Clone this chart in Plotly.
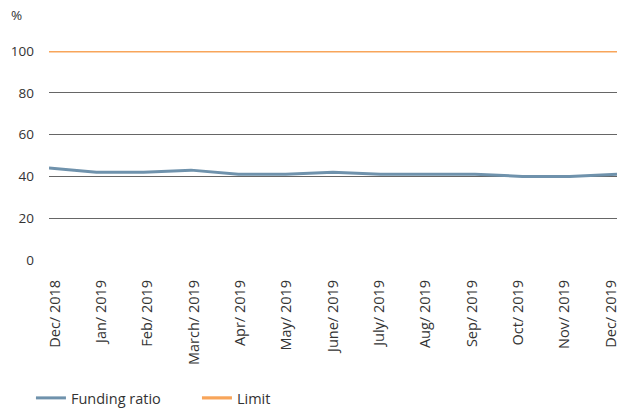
import plotly.graph_objects as go

categories = ["Dec/ 2018", "Jan/ 2019", "Feb/ 2019", "March/ 2019", "Apr/ 2019", "May/ 2019",
              "June/ 2019", "July/ 2019", "Aug/ 2019", "Sep/ 2019", "Oct/ 2019", "Nov/ 2019", "Dec/ 2019"]
funding_ratio = [44, 42, 42, 43, 41, 41, 42, 41, 41, 41, 40, 40, 41]
limit = [100] * len(categories)
y_ticks = [0, 20, 40, 60, 80, 100]

FONT = "'Open Sans', sans-serif"
TXT = "#333333"
FS = 13.5
FSX = 14.5

idx = list(range(len(categories)))

fig = go.Figure()
fig.add_trace(go.Scatter(x=idx, y=funding_ratio, mode="lines", name="Funding ratio",
                         line=dict(color="#6F92AC", width=3), hoverinfo="skip"))
fig.add_trace(go.Scatter(x=idx, y=limit, mode="lines", name="Limit",
                         line=dict(color="#F8A55A", width=3.2), hoverinfo="skip"))
# invisible trace so the label axis (xaxis2) is rendered
fig.add_trace(go.Scatter(x=idx, y=funding_ratio, xaxis="x2", mode="lines", opacity=0,
                         showlegend=False, hoverinfo="skip", line=dict(width=0)))

fig.update_layout(
    width=619, height=409,
    margin=dict(l=49, r=2, t=51, b=149),
    paper_bgcolor="white", plot_bgcolor="white",
    font=dict(family=FONT, size=FS, color=TXT),
    showlegend=True,
    legend=dict(orientation="h", xref="container", x=0.05, xanchor="left",
                yref="container", y=0.027, yanchor="middle",
                font=dict(size=FSX, color=TXT), entrywidth=121, itemwidth=30,
                bgcolor="rgba(0,0,0,0)"),
    annotations=[dict(text="%", x=0, xref="paper", y=1.0, yref="paper", xshift=-40, yshift=36,
                      showarrow=False, xanchor="left", yanchor="middle",
                      font=dict(size=FS, color=TXT))],
    xaxis=dict(range=[0, len(categories) - 1], showgrid=False, showline=False, zeroline=False,
               ticks="", showticklabels=False, automargin=False),
    xaxis2=dict(overlaying="x", anchor="y", side="bottom",
                range=[-0.13, len(categories) - 1 + 0.13], tickvals=idx, ticktext=categories,
                showgrid=False, showline=False, zeroline=False, ticks="", tickangle=-90,
                ticklabelstandoff=16, ticklabeloverflow="allow",
                tickfont=dict(size=FSX, color=TXT), automargin=False),
    yaxis=dict(range=[0, 100], tickvals=y_ticks, showgrid=True, gridcolor="#666666",
               gridwidth=1, zeroline=False, showline=False, ticks="",
               ticklabelstandoff=14, tickfont=dict(size=FS, color=TXT), automargin=False),
)

fig.write_html("out.html", config={"displayModeBar": False},
               post_script="document.body.style.margin='0';document.body.style.overflow='hidden';")
